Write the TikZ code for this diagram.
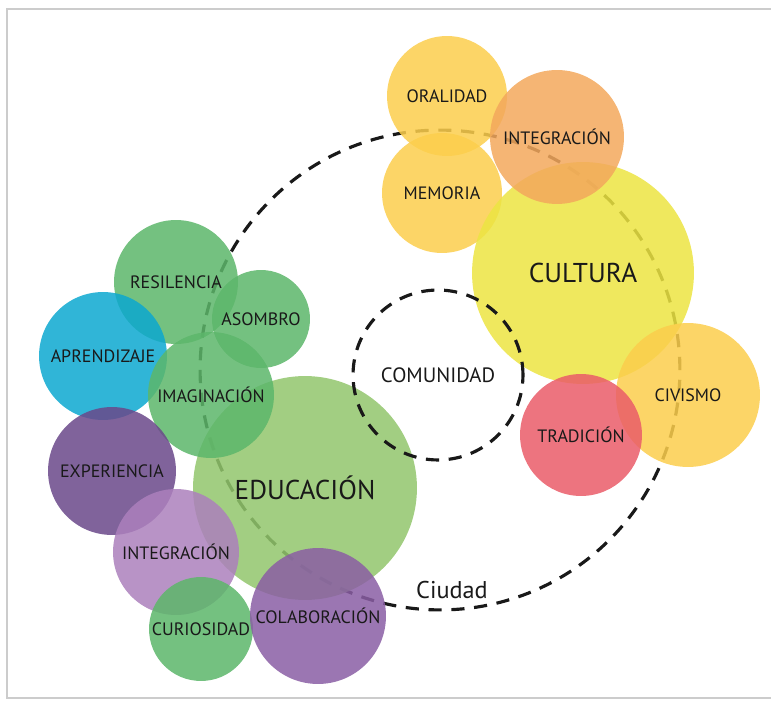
\documentclass[tikz,border=0pt]{standalone}
\usepackage{fontspec}
\setmainfont{PT Sans}

\definecolor{oral}{RGB}{252,206,76}
\definecolor{naranja}{RGB}{243,168,92}
\definecolor{amarillo}{RGB}{236,228,66}
\definecolor{trad}{RGB}{234,92,104}
\definecolor{verde}{RGB}{92,182,106}
\definecolor{verdeclaro}{RGB}{146,198,108}
\definecolor{cian}{RGB}{12,168,208}
\definecolor{morado}{RGB}{106,72,138}
\definecolor{lila}{RGB}{172,128,188}
\definecolor{violeta}{RGB}{138,94,164}

\begin{document}
\begin{tikzpicture}[x=0.02cm, y=-0.02cm,
    every node/.style={text=black!90}]
  \tikzset{%
  % Bubbles: the value is the radius in pixels
    bubble/.style = {circle, inner sep=0pt, minimum size=#1*0.04cm,
                     fill opacity=0.85, text opacity=1,
                     font=\fontsize{10.2}{12}\selectfont},
    core/.style = {font=\fontsize{15.5}{18}\selectfont},
    ring/.style = {circle, inner sep=0pt, draw=black!90, line width=1.8pt,
                   dash pattern=on 7.5pt off 5.5pt},
  }
  \useasboundingbox (0,0) rectangle (771,702);
  \draw[black!20, line width=1.2pt] (771,9) -- (7,9) -- (7,698) -- (771,698);

  % Ciudad (under the bubbles)
  \node (ciudad) [ring, minimum size=240*0.04cm] at (440,370) {};
  \node (ciudadtxt) [font=\fontsize{13.8}{16}\selectfont] at (452,590) {Ciudad};

  % Cultura
  \node (oralidad) [bubble=60, fill=oral] at (447,96) {ORALIDAD};
  \node (memoria) [bubble=60, fill=oral] at (442,193) {MEMORIA};
  \node (cultura) [bubble=111, fill=amarillo, core] at (583,273) {CULTURA};
  \node (integ1) [bubble=67, fill=naranja] at (557,137) {INTEGRACIÓN};
  \node (civismo) [bubble=72, fill=oral] at (688,395) {CIVISMO};
  \node (tradicion) [bubble=61, fill=trad] at (581,435) {TRADICIÓN};

  % Educacion
  \node (resiliencia) [bubble=62, fill=verde] at (176,282) {RESILENCIA};
  \node (asombro) [bubble=49, fill=verde] at (261,319) {ASOMBRO};
  \node (aprendizaje) [bubble=64, fill=cian] at (103,356) {APRENDIZAJE};
  \node (educacion) [bubble=112, fill=verdeclaro, core] at (305,488) {EDUCACIÓN};
  \node (imaginacion) [bubble=63, fill=verde] at (211,395) {IMAGINACIÓN};
  \node (experiencia) [bubble=64, fill=morado] at (112,471) {EXPERIENCIA};
  \node (integ2) [bubble=63, fill=lila] at (176,552) {INTEGRACIÓN};
  \node (curiosidad) [bubble=52, fill=verde] at (201,629) {CURIOSIDAD};
  \node (colaboracion) [bubble=68, fill=violeta] at (318,616) {COLABORACIÓN};

  % Comunidad (on top)
  \node (comunidad) [ring, minimum size=85*0.04cm, font=\fontsize{11.8}{14}\selectfont]
    at (438,375) {COMUNIDAD};

\end{tikzpicture}
\end{document}
